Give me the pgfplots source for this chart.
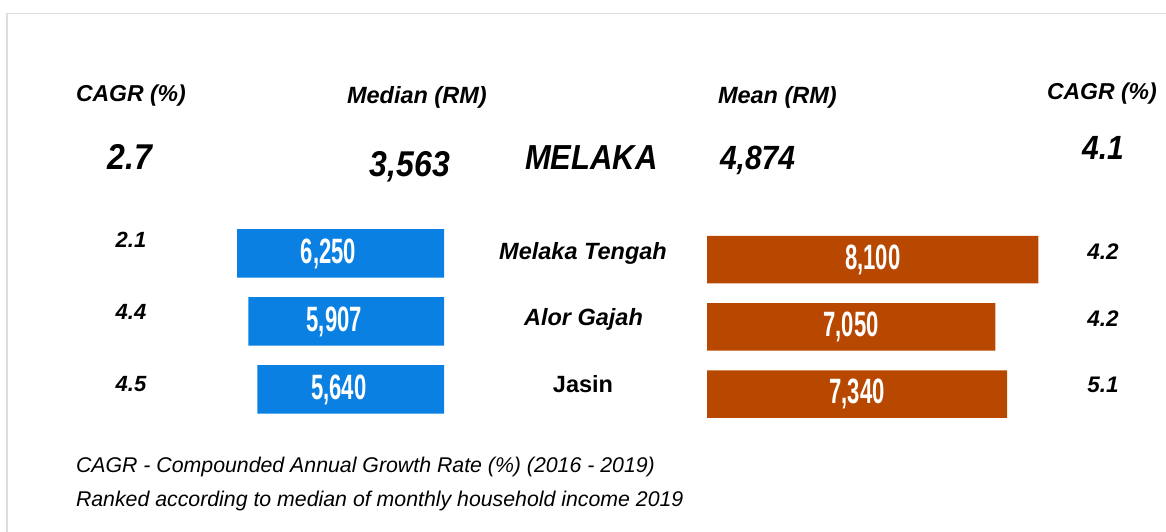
\documentclass[border=0pt]{standalone}
\usepackage{pgfplots}
\pgfplotsset{compat=1.18}
\usepackage{pgfplotstable}
\usepackage{graphicx}
\usepackage{fontspec}
\setmainfont{Liberation Sans}
\definecolor{medblue}{HTML}{0A80E2}
\definecolor{meanorg}{HTML}{B84700}
\definecolor{framegray}{HTML}{DDDDDD}
\newcommand{\fs}[1]{\fontsize{#1bp}{#1bp}\selectfont}
\newcommand{\barlab}[1]{\scalebox{0.69}[1.1]{\fs{32}\bfseries #1}}
\newcommand{\tall}[1]{\scalebox{1}[1.12]{#1}}

\pgfplotstableread{
row val lab
0 6250 6,250
1 5907 5,907
2 5640 5,640
}\mediantab
\pgfplotstableread{
row val lab
0 8100 8,100
1 7050 7,050
2 7340 7,340
}\meantab

\begin{document}
\begin{tikzpicture}
\path[use as bounding box] (0,0) rectangle (1166bp,532bp);
\fill[white] (0,0) rectangle (1166bp,532bp);
% frame
\draw[framegray, line width=1.5bp] (7bp,0) -- (7bp,{532bp-13.5bp}) -- (1166bp,{532bp-13.5bp});

% median bars
\begin{axis}[at={(444bp,312.5bp)}, anchor=north east, scale only axis,
  width=231.7bp, height=204bp, xmin=0, xmax=7000, x dir=reverse,
  ymin=-0.5, ymax=2.5, y dir=reverse, hide axis, clip=false,
  xbar, bar width=48.5bp]
\addplot[fill=medblue, draw=none, nodes near coords={\barlab{\pgfplotspointmeta}},
  nodes near coords align=center,
  point meta=explicit symbolic,
  visualization depends on={\thisrow{val} \as \rx},
  every node near coord/.style={anchor=center, text=white, inner sep=0pt, xshift={\rx*0.01655bp-12bp}}]
  table[x=val, y=row, meta=lab] {\mediantab};
\end{axis}

% mean bars
\begin{axis}[at={(707bp,306.1bp)}, anchor=north west, scale only axis,
  width=368.1bp, height=201.75bp, xmin=0, xmax=9000,
  ymin=-0.5, ymax=2.5, y dir=reverse, hide axis, clip=false,
  xbar, bar width=47.5bp]
\addplot[fill=meanorg, draw=none, nodes near coords={\barlab{\pgfplotspointmeta}},
  nodes near coords align=center,
  point meta=explicit symbolic,
  visualization depends on={\thisrow{val} \as \rx},
  every node near coord/.style={anchor=center, text=white, inner sep=0pt, xshift={-\rx*0.02045bp}}]
  table[x=val, y=row, meta=lab] {\meantab};
\end{axis}

\begin{scope}[x=1bp, y=-1bp, yshift=532bp, every node/.style={inner sep=0pt, outer sep=0pt}]
% headers
\node[anchor=base west, font=\fs{23}\bfseries\itshape] at (76,102) {CAGR (\%)};
\node[anchor=base west, font=\fs{23.5}\bfseries\itshape] at (347,104) {Median (RM)};
\node[anchor=base west, font=\fs{23.5}\bfseries\itshape] at (718,104) {Mean (RM)};
\node[anchor=base west, font=\fs{23}\bfseries\itshape] at (1047,100) {CAGR (\%)};
% state row
\node[anchor=base, font=\fs{32}\bfseries\itshape] at (130,170) {\tall{2.7}};
\node[anchor=base, font=\fs{32}\bfseries\itshape] at (410,177) {\tall{3,563}};
\node[anchor=base west, font=\fs{31}\bfseries\itshape] at (525,170) {\tall{MELAKA}};
\node[anchor=base west, font=\fs{30}\bfseries\itshape] at (720,170) {\tall{4,874}};
\node[anchor=base, font=\fs{30}\bfseries\itshape] at (1103,160) {\tall{4.1}};
% left CAGR
\node[anchor=base, font=\fs{22}\bfseries\itshape] at (131,248) {2.1};
\node[anchor=base, font=\fs{22}\bfseries\itshape] at (131,320) {4.4};
\node[anchor=base, font=\fs{22}\bfseries\itshape] at (131,392) {4.5};
% districts
\node[anchor=base, font=\fs{23.5}\bfseries\itshape] at (583,260) {Melaka Tengah};
\node[anchor=base, font=\fs{23.5}\bfseries\itshape] at (583.5,326) {Alor Gajah};
\node[anchor=base, font=\fs{23.5}\bfseries] at (583,393) {Jasin};
% right CAGR
\node[anchor=base, font=\fs{22.5}\bfseries\itshape] at (1103,260) {4.2};
\node[anchor=base, font=\fs{22.5}\bfseries\itshape] at (1103,327) {4.2};
\node[anchor=base, font=\fs{22.5}\bfseries\itshape] at (1103,393) {5.1};
% footnotes
\node[anchor=base west, font=\fs{21.3}\itshape] at (76,473) {CAGR - Compounded Annual Growth Rate (\%) (2016 - 2019)};
\node[anchor=base west, font=\fs{21.3}\itshape] at (76,507) {Ranked according to median of monthly household income 2019};
\end{scope}
\end{tikzpicture}
\end{document}
